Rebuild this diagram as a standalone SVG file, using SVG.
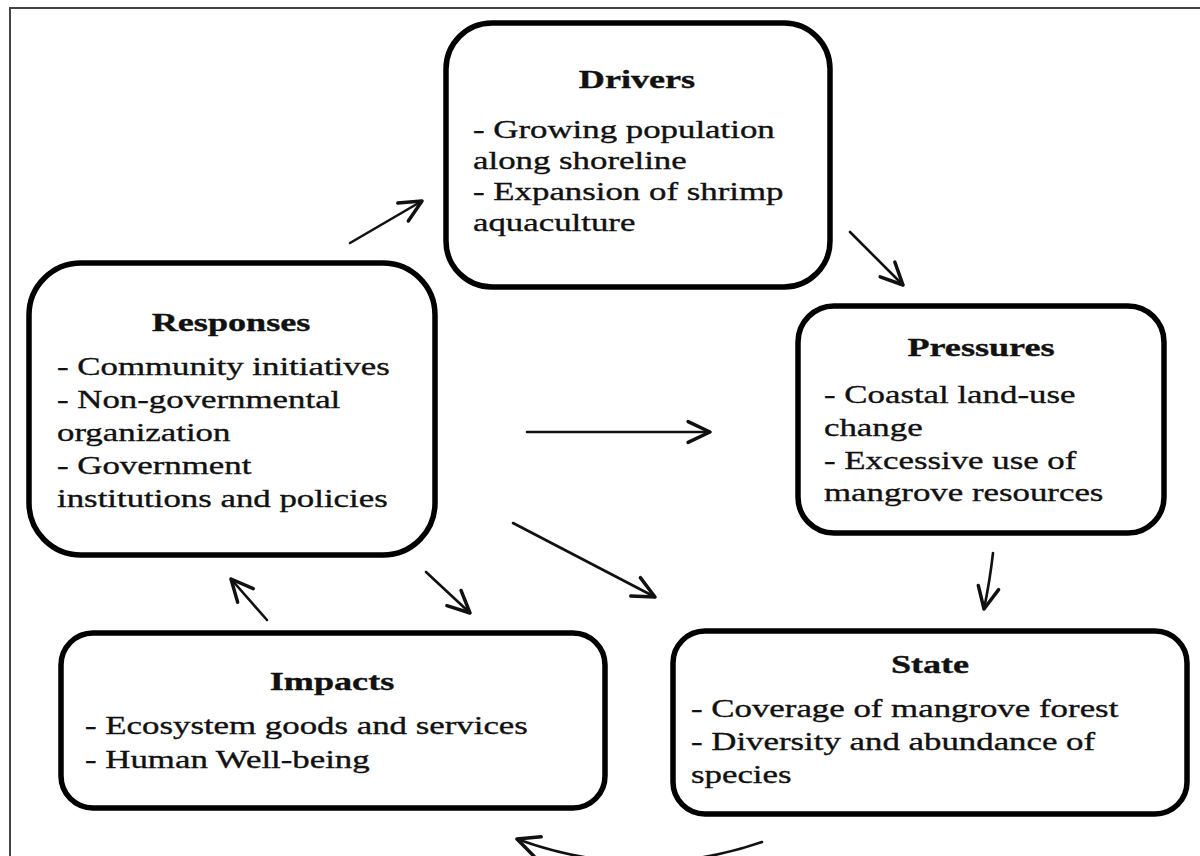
<svg xmlns="http://www.w3.org/2000/svg" width="1200" height="856" viewBox="0 0 1200 856">
  <defs>
    <style>
      .box { fill: #fff; stroke: #000; stroke-width: 5.5; }
      .frame { fill: none; stroke: #444; stroke-width: 2; }
      .t { font-family: "Liberation Serif", "Times New Roman", serif; font-size: 26px; fill: #111; stroke: #111; stroke-width: 0.35; }
      .h { font-weight: bold; text-anchor: middle; }
      .c { fill: none; stroke: #111; stroke-width: 2.6; stroke-linecap: round; }
    </style>
    <marker id="arr" markerUnits="userSpaceOnUse" markerWidth="30" markerHeight="30" refX="0" refY="0" viewBox="-22 -12 26 24" orient="auto">
      <path d="M-19,-9 L0,0 L-19,9" fill="none" stroke="#111" stroke-width="3" stroke-linecap="round" stroke-linejoin="round"/>
    </marker>
  </defs>

  <rect width="1200" height="856" fill="#fff"/>
  <!-- page frame (top and left edges only) -->
  <path class="frame" d="M10,856 V8 H1200"/>

  <!-- Drivers -->
  <g id="drivers">
    <rect class="box" x="446" y="23" width="384" height="264" rx="46"/>
    <g transform="translate(637,88) scale(1.39,1)"><text class="t h" x="0" y="0">Drivers</text></g>
    <g transform="translate(473,0) scale(1.34,1)">
      <text class="t" x="0" y="138">- Growing population</text>
      <text class="t" x="0" y="169">along shoreline</text>
      <text class="t" x="0" y="200">- Expansion of shrimp</text>
      <text class="t" x="0" y="231">aquaculture</text>
    </g>
  </g>

  <!-- Pressures -->
  <g id="pressures">
    <rect class="box" x="798" y="306" width="366" height="227" rx="36"/>
    <g transform="translate(981,356) scale(1.39,1)"><text class="t h" x="0" y="0">Pressures</text></g>
    <g transform="translate(824,0) scale(1.34,1)">
      <text class="t" x="0" y="403">- Coastal land-use</text>
      <text class="t" x="0" y="436">change</text>
      <text class="t" x="0" y="469">- Excessive use of</text>
      <text class="t" x="0" y="501">mangrove resources</text>
    </g>
  </g>

  <!-- Responses -->
  <g id="responses">
    <rect class="box" x="29" y="263" width="406" height="292" rx="52"/>
    <g transform="translate(231,331) scale(1.39,1)"><text class="t h" x="0" y="0">Responses</text></g>
    <g transform="translate(57,0) scale(1.34,1)">
      <text class="t" x="0" y="375">- Community initiatives</text>
      <text class="t" x="0" y="408">- Non-governmental</text>
      <text class="t" x="0" y="441">organization</text>
      <text class="t" x="0" y="474">- Government</text>
      <text class="t" x="0" y="507">institutions and policies</text>
    </g>
  </g>

  <!-- Impacts -->
  <g id="impacts">
    <rect class="box" x="61" y="633" width="544" height="175" rx="32"/>
    <g transform="translate(332,690) scale(1.39,1)"><text class="t h" x="0" y="0">Impacts</text></g>
    <g transform="translate(85,0) scale(1.34,1)">
      <text class="t" x="0" y="734">- Ecosystem goods and services</text>
      <text class="t" x="0" y="768">- Human Well-being</text>
    </g>
  </g>

  <!-- State -->
  <g id="state">
    <rect class="box" x="673" y="631" width="514" height="183" rx="32"/>
    <g transform="translate(930,673) scale(1.39,1)"><text class="t h" x="0" y="0">State</text></g>
    <g transform="translate(691,0) scale(1.34,1)">
      <text class="t" x="0" y="717">- Coverage of mangrove forest</text>
      <text class="t" x="0" y="750">- Diversity and abundance of</text>
      <text class="t" x="0" y="783">species</text>
    </g>
  </g>

  <!-- connectors -->
  <g id="connectors">
    <path class="c" marker-end="url(#arr)" d="M350,243 L422,201"/>
    <path class="c" marker-end="url(#arr)" d="M850,232 L903,285"/>
    <path class="c" marker-end="url(#arr)" d="M527,432 L710,432"/>
    <path class="c" marker-end="url(#arr)" d="M993,553 Q990,580 984,609"/>
    <path class="c" marker-end="url(#arr)" d="M513,523 L655,597"/>
    <path class="c" marker-end="url(#arr)" d="M426,572 L470,613"/>
    <path class="c" marker-end="url(#arr)" d="M267,620 L231,579"/>
    <path class="c" marker-end="url(#arr)" d="M762,842 Q640,884 517,839"/>
  </g>
</svg>
